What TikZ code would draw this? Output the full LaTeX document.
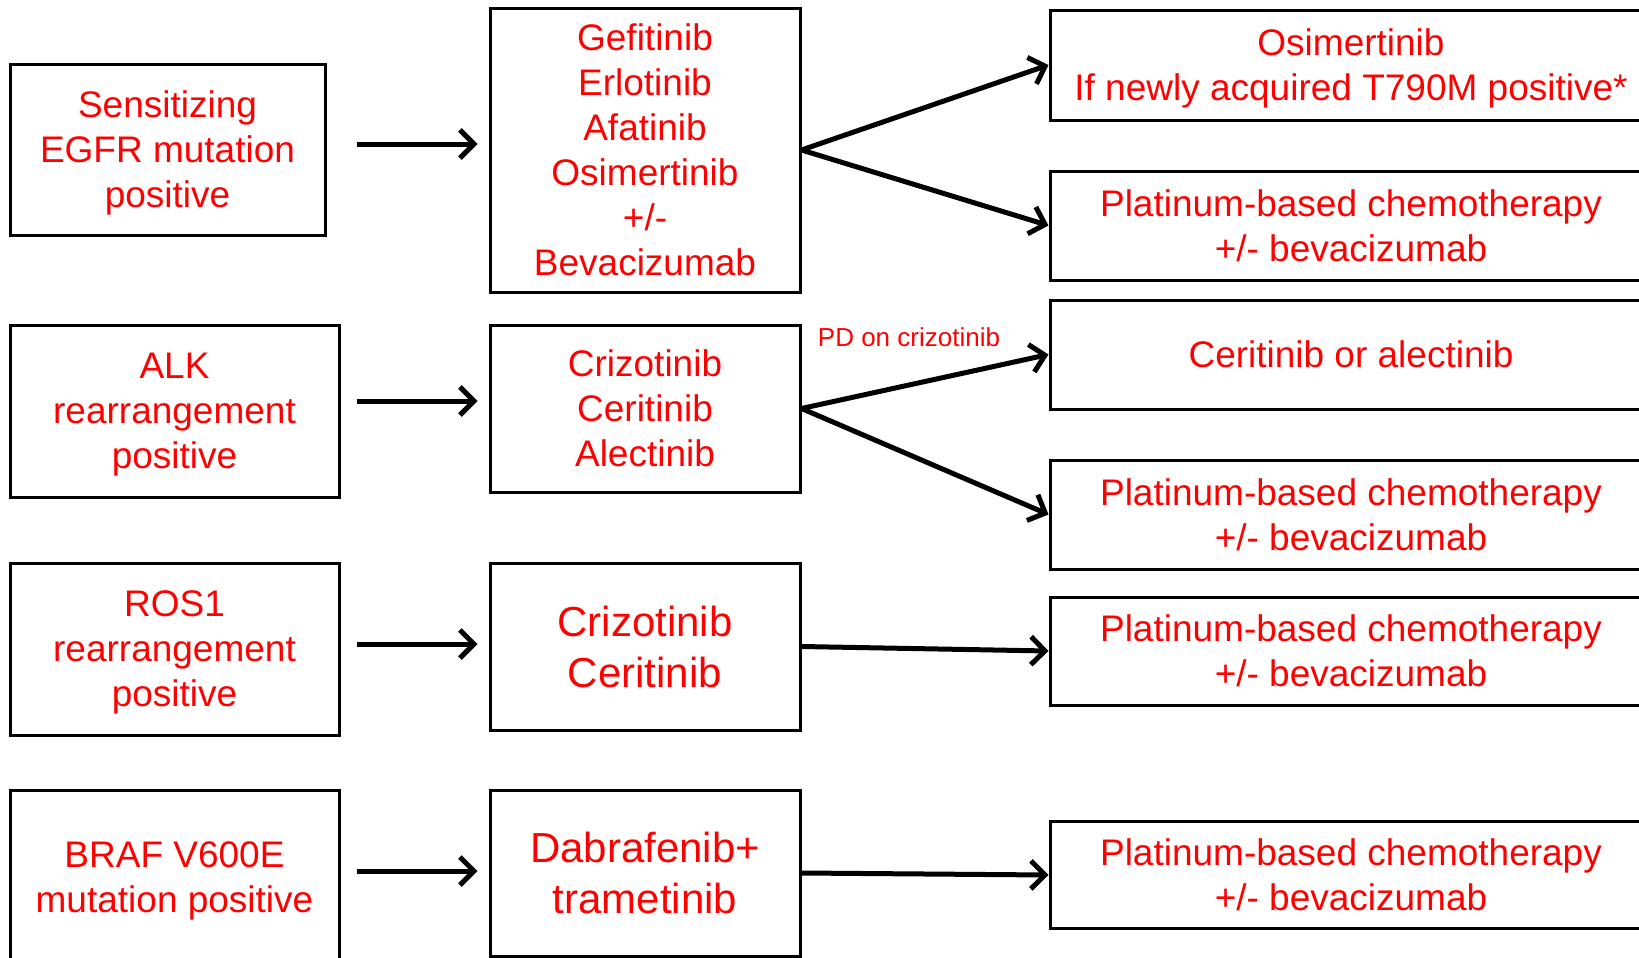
\documentclass[tikz,border=0pt]{standalone}
\usepackage{fontspec}
\setmainfont{Liberation Sans}
\usetikzlibrary{arrows.meta}
\definecolor{TxtRed}{HTML}{FF0000}
\tikzset{
  box/.style args={#1/#2}{
    rectangle, draw=black, text=TxtRed,
    line width=1.5pt, align=center, inner sep=2pt,
    minimum width=#1, minimum height=#2,
    font=\fontsize{18.5}{22.5}\selectfont,
  },
  bigtxt/.style={font=\fontsize{21}{25.5}\selectfont},
  arr/.style={
    -{Straight Barb[length=7pt,width=14pt]},
    line width=2.5pt, color=black,
  },
  lbl/.style={
    font=\fontsize{13}{15}\selectfont, text=TxtRed, inner sep=1pt,
  },
}
\begin{document}
\begin{tikzpicture}[x=0.5pt,y=-0.5pt]
    \clip (0,0) rectangle (1639,958);
    % markers
    \node[box=157.5pt/85.5pt,text depth=-3pt] (egfr) at (167.5,149.5) {Sensitizing\\EGFR mutation\\positive};
    \node[box=164.5pt/86pt,text depth=-4pt] (alk) at (174.5,411) {ALK\\rearrangement\\positive};
    \node[box=164.5pt/86pt,text depth=-3.5pt] (ros) at (174.5,649) {ROS1\\rearrangement\\positive};
    \node[box=164.5pt/87pt,text depth=-2.5pt] (braf) at (174.5,877) {BRAF V600E\\mutation positive};

    % first line
    \node[box=155pt/142pt,text depth=-5pt] (egfrTx) at (645,150) {Gefitinib\\Erlotinib\\Afatinib\\Osimertinib\\+/-\\Bevacizumab};
    \node[box=155pt/83.5pt,text depth=-6pt] (alkTx) at (645,408.5) {Crizotinib\\Ceritinib\\Alectinib};
    \node[box=155pt/83.5pt,bigtxt,text depth=-5pt] (rosTx) at (645,646.5) {Crizotinib\\Ceritinib};
    \node[box=155pt/83pt,bigtxt,text depth=-6pt] (brafTx) at (645,873) {Dabrafenib+\\trametinib};
    \draw[arr,shorten <=15pt,shorten >=5.5pt] ([yshift=2.75pt]egfr.east) -- ([yshift=2.75pt]egfr.east -| egfrTx.west);
    \draw[arr,shorten <=8pt,shorten >=5.5pt] ([yshift=5pt]alk.east) -- ([yshift=5pt]alk.east -| alkTx.west);
    \draw[arr,shorten <=8pt,shorten >=5.5pt] ([yshift=2.5pt]ros.east) -- ([yshift=2.5pt]ros.east -| rosTx.west);
    \draw[arr,shorten <=8pt,shorten >=5.5pt] ([yshift=3pt]braf.east) -- ([yshift=3pt]braf.east -| brafTx.west);

    % second line
    \node[box=301pt/55pt,text depth=-1pt] (osi) at (1351,65) {Osimertinib\\If newly acquired T790M positive*};
    \node[box=301pt/54.5pt] (chemoA) at (1351,225.5) {Platinum-based chemotherapy\\+/- bevacizumab};
    \node[box=301pt/54.5pt] (alkNext) at (1351,354.5) {Ceritinib or alectinib};
    \node[box=301pt/54.5pt] (chemoB) at (1351,514.5) {Platinum-based chemotherapy\\+/- bevacizumab};
    \node[box=301pt/54pt] (chemoC) at (1351,651) {Platinum-based chemotherapy\\+/- bevacizumab};
    \node[box=301pt/53.5pt] (chemoD) at (1351,875) {Platinum-based chemotherapy\\+/- bevacizumab};
    \node[lbl] (pd) at (909,337) {PD on crizotinib};
    \draw[arr] (egfrTx.east) -- (osi.west); \draw[arr] (egfrTx.east) -- (chemoA.west);
    \draw[arr] (alkTx.east) -- (alkNext.west); \draw[arr] (alkTx.east) -- (chemoB.west);
    \draw[arr] (rosTx.east) -- (chemoC.west);
    \draw[arr] (brafTx.east) -- (chemoD.west);
\end{tikzpicture}
\end{document}
